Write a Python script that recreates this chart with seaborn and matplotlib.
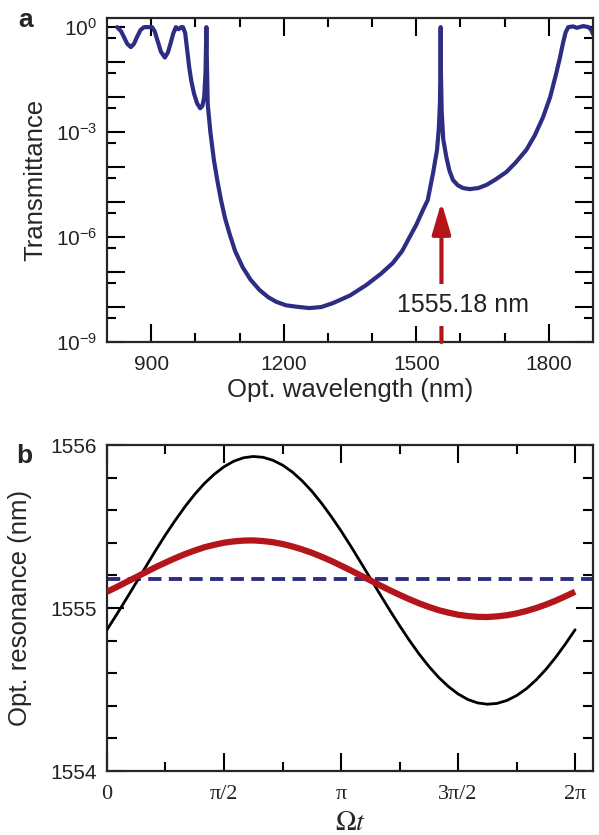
import numpy as np
import pandas as pd
import matplotlib
matplotlib.use("Agg")
import matplotlib.pyplot as plt
import seaborn as sns
from matplotlib.ticker import FixedLocator, FuncFormatter, MultipleLocator

# panel a: transmittance spectrum (log10 values)
wavelength_nm = [823, 832, 839, 846, 854, 861, 868, 876, 884, 902, 908, 914, 922, 931,
                 938, 944, 950, 956, 962, 968, 972, 977, 981, 986, 991, 997, 1004, 1011,
                 1016, 1020, 1023, 1025, 1026, 1028, 1034, 1042, 1050, 1058, 1067, 1077,
                 1090, 1107, 1125, 1145, 1165, 1183, 1205, 1228, 1258, 1285, 1311, 1350,
                 1387, 1420, 1447, 1468, 1485, 1500, 1515, 1526, 1538, 1547, 1551, 1553.5,
                 1554.7, 1555.2, 1555.8, 1557.5, 1561, 1568, 1575, 1583, 1594, 1606, 1621,
                 1640, 1659, 1680, 1704, 1725, 1749, 1768, 1787, 1803, 1817, 1825, 1832,
                 1838, 1844, 1855, 1863, 1878, 1890, 1896, 1900]
log_transmittance = [0.0, -0.12, -0.30, -0.48, -0.57, -0.48, -0.28, -0.08, 0.0, 0.0, -0.12,
                     -0.37, -0.70, -0.87, -0.72, -0.46, -0.18, 0.0, -0.06, 0.0, 0.0, -0.17,
                     -0.60, -1.14, -1.55, -1.90, -2.18, -2.32, -2.25, -2.00, -1.30, 0.0,
                     -0.90, -2.20, -3.00, -3.80, -4.40, -4.94, -5.45, -5.89, -6.40, -6.86,
                     -7.22, -7.51, -7.72, -7.85, -7.95, -7.99, -8.03, -8.00, -7.89, -7.67,
                     -7.37, -7.05, -6.74, -6.40, -6.00, -5.65, -5.23, -4.94, -4.17, -3.51,
                     -2.90, -2.20, -1.20, 0.0, -1.30, -2.40, -3.20, -3.71, -4.10, -4.37,
                     -4.52, -4.60, -4.63, -4.60, -4.51, -4.35, -4.14, -3.87, -3.51, -3.10,
                     -2.57, -2.00, -1.31, -0.88, -0.46, -0.15, 0.0, 0.02, -0.02, 0.03, 0.0,
                     -0.08, -0.20]
marked_wavelength = 1557
marked_label = "1555.18 nm"

# panel b: optical resonance over one modulation period
omega_t = [0.000, 0.131, 0.262, 0.393, 0.524, 0.654, 0.785, 0.916, 1.047, 1.178, 1.309,
           1.440, 1.571, 1.702, 1.833, 1.963, 2.094, 2.225, 2.356, 2.487, 2.618, 2.749,
           2.880, 3.011, 3.142, 3.272, 3.403, 3.534, 3.665, 3.796, 3.927, 4.058, 4.189,
           4.320, 4.451, 4.581, 4.712, 4.843, 4.974, 5.105, 5.236, 5.367, 5.498, 5.629,
           5.760, 5.890, 6.021, 6.152, 6.283]
resonance_black = [1554.867, 1554.961, 1555.058, 1555.157, 1555.256, 1555.354, 1555.449,
                   1555.538, 1555.622, 1555.698, 1555.765, 1555.821, 1555.867, 1555.901,
                   1555.922, 1555.930, 1555.925, 1555.907, 1555.877, 1555.835, 1555.781,
                   1555.717, 1555.643, 1555.561, 1555.473, 1555.380, 1555.282, 1555.183,
                   1555.084, 1554.986, 1554.892, 1554.802, 1554.718, 1554.642, 1554.575,
                   1554.519, 1554.473, 1554.439, 1554.418, 1554.410, 1554.415, 1554.433,
                   1554.463, 1554.505, 1554.559, 1554.623, 1554.697, 1554.779, 1554.867]
resonance_red = [1555.100, 1555.129, 1555.160, 1555.190, 1555.221, 1555.251, 1555.279,
                 1555.306, 1555.331, 1555.353, 1555.373, 1555.388, 1555.401, 1555.409,
                 1555.414, 1555.415, 1555.411, 1555.404, 1555.393, 1555.378, 1555.360,
                 1555.339, 1555.315, 1555.289, 1555.260, 1555.231, 1555.200, 1555.170,
                 1555.139, 1555.109, 1555.081, 1555.054, 1555.029, 1555.007, 1554.987,
                 1554.972, 1554.959, 1554.951, 1554.946, 1554.945, 1554.949, 1554.956,
                 1554.967, 1554.982, 1555.000, 1555.021, 1555.045, 1555.072, 1555.100]
resonance_static = 1555.18
phase_ticks = [0, np.pi / 2, np.pi, 3 * np.pi / 2, 2 * np.pi]
phase_labels = ["0", "π/2", "π", "3π/2", "2π"]

NAVY = "#2D2E83"
RED = "#B3151B"

sns.set_style("ticks")
plt.rcParams["font.family"] = ["Liberation Sans", "DejaVu Sans"]
plt.rcParams["axes.unicode_minus"] = False
plt.rcParams["mathtext.fontset"] = "stix"

fig = plt.figure(figsize=(5.99, 8.35), dpi=100)
ax_a = fig.add_axes([0.1786, 0.5904, 0.8114, 0.388])
ax_b = fig.add_axes([0.1786, 0.0766, 0.8114, 0.3904])

# ---- panel a ----
spec = pd.DataFrame({"wl": wavelength_nm, "T": 10 ** np.array(log_transmittance)})
sns.lineplot(data=spec, x="wl", y="T", ax=ax_a, color=NAVY, linewidth=3.0, sort=False)
ax_a.lines[-1].set_solid_joinstyle("round")
ax_a.set_yscale("log")
ax_a.set_xlim(800, 1900)
ax_a.set_ylim(1e-9, 10 ** 0.26)
ax_a.xaxis.set_major_locator(FixedLocator([900, 1200, 1500, 1800]))
ax_a.xaxis.set_minor_locator(FixedLocator([1000, 1100, 1300, 1400, 1600, 1700]))
ax_a.yaxis.set_major_locator(FixedLocator([10.0 ** k for k in range(-9, 1)]))
ax_a.yaxis.set_minor_locator(FixedLocator([5 * 10.0 ** k for k in range(-9, 0)]))
ax_a.yaxis.set_major_formatter(FuncFormatter(
    lambda v, p: r"$\mathdefault{10^{%d}}$" % round(np.log10(v)) if round(np.log10(v)) % 3 == 0 else ""))

ax_a.annotate("", xy=(marked_wavelength, 1.0e-5), xytext=(marked_wavelength, 1e-9),
              arrowprops=dict(arrowstyle="-|>,head_length=0.95,head_width=0.28",
                              color=RED, lw=3, shrinkA=0, shrinkB=0, mutation_scale=20))
ax_a.text(1605, 1.15e-8, marked_label, ha="center", va="center", fontsize=18,
          color="#222222", bbox=dict(boxstyle="square,pad=0.35", fc="white", ec="none"))

ax_a.set_xlabel("Opt. wavelength (nm)", fontsize=18.5, va="center")
ax_a.xaxis.set_label_coords(0.5, -0.147)
ax_a.set_ylabel("Transmittance", fontsize=18.5, va="center")
ax_a.yaxis.set_label_coords(-0.148, 0.5)

# ---- panel b ----
res = pd.DataFrame({"wt": omega_t, "black": resonance_black, "red": resonance_red})
ax_b.axhline(resonance_static, color=NAVY, lw=2.8, linestyle=(0, (3.4, 1.9)),
             dash_capstyle="butt", zorder=2)
sns.lineplot(data=res, x="wt", y="black", ax=ax_b, color="black", linewidth=2.0, zorder=3)
sns.lineplot(data=res, x="wt", y="red", ax=ax_b, color=RED, linewidth=4.5, zorder=4,
             solid_capstyle="butt")
ax_b.set_xlim(0, 2 * np.pi + 0.24)
ax_b.set_ylim(1554, 1556)
ax_b.set_xticks(phase_ticks)
ax_b.set_xticklabels(phase_labels, fontfamily="Liberation Serif", fontsize=16)
ax_b.xaxis.set_minor_locator(FixedLocator([np.pi / 4, 3 * np.pi / 4, 5 * np.pi / 4, 7 * np.pi / 4]))
ax_b.set_yticks([1554, 1555, 1556])
ax_b.set_yticklabels(["1554", "1555", "1556"])
ax_b.yaxis.set_minor_locator(MultipleLocator(0.2))
ax_b.set_xlabel(r"$\Omega t$", fontsize=20, va="center")
ax_b.xaxis.set_label_coords(0.5, -0.16)
ax_b.set_ylabel("Opt. resonance (nm)", fontsize=18.5, va="center")
ax_b.yaxis.set_label_coords(-0.178, 0.5)

for ax in (ax_a, ax_b):
    for s in ax.spines.values():
        s.set_linewidth(1.6)
        s.set_visible(True)
    ax.tick_params(which="both", direction="in", top=True, right=True, width=1.5,
                   colors="black", labelcolor="#222222")
    ax.tick_params(axis="y", which="both", labelsize=15, pad=7)
    ax.tick_params(axis="x", which="major", pad=9)
    ax.tick_params(which="major", length=13)
    ax.tick_params(which="minor", length=6.5)
ax_a.tick_params(axis="x", labelsize=15)
ax_b.tick_params(axis="x", pad=10)
ax_b.tick_params(axis="y", which="major", length=12)
ax_b.tick_params(axis="y", which="minor", length=7)

fig.text(18 / 599, 1 - 27 / 835, "a", fontsize=19, fontweight="bold", va="baseline")
fig.text(16 / 599, 1 - 463 / 835, "b", fontsize=19, fontweight="bold", va="baseline")

fig.savefig("out.png", dpi=100)
